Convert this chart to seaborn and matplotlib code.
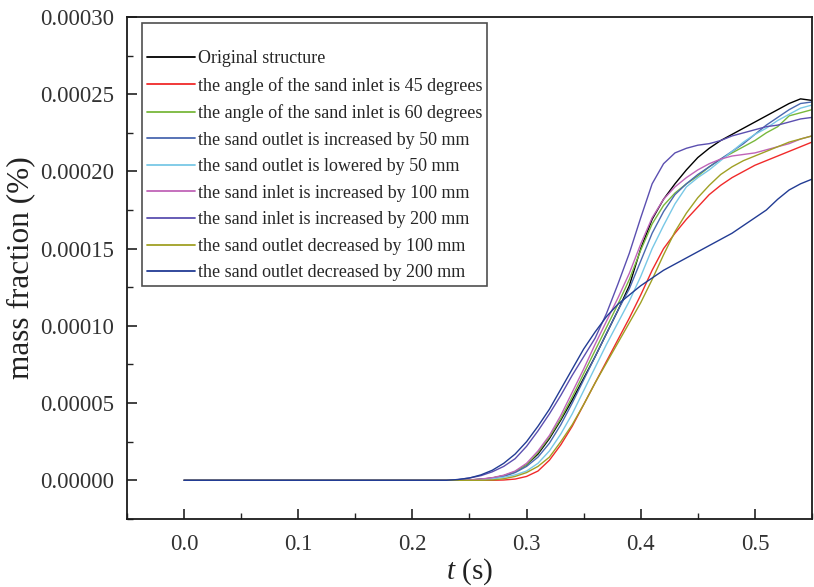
import numpy as np
import pandas as pd
import matplotlib
matplotlib.use("Agg")
import matplotlib.pyplot as plt
import seaborn as sns
from matplotlib.ticker import MultipleLocator, FormatStrFormatter

# Time samples (s)
t = [0.0, 0.23, 0.24, 0.25, 0.26, 0.27, 0.28, 0.29, 0.30, 0.31, 0.32, 0.33,
     0.34, 0.35, 0.36, 0.37, 0.38, 0.39, 0.40, 0.41, 0.42, 0.43, 0.44, 0.45,
     0.46, 0.47, 0.48, 0.49, 0.50, 0.51, 0.52, 0.53, 0.54, 0.55]

# Mass fraction for each structure, in units of 1e-5
original = [0, 0, 0, 0.02, 0.07, 0.15, 0.3, 0.55, 1.0, 1.7, 2.7, 3.9,
            5.2, 6.6, 8.0, 9.5, 11.0, 12.6, 15.0, 16.9, 18.2, 19.2, 20.1, 20.9,
            21.5, 22.0, 22.4, 22.8, 23.2, 23.6, 24.0, 24.4, 24.7, 24.6]
angle45 = [0, 0, 0, 0, 0, 0, 0.02, 0.08, 0.25, 0.6, 1.3, 2.3,
           3.5, 4.9, 6.3, 7.7, 9.1, 10.5, 12.0, 13.6, 15.0, 16.0, 16.9, 17.7,
           18.5, 19.1, 19.6, 20.0, 20.4, 20.7, 21.0, 21.3, 21.6, 21.9]
angle60 = [0, 0, 0, 0.02, 0.06, 0.14, 0.3, 0.55, 1.0, 1.8, 2.8, 4.0,
           5.4, 6.9, 8.4, 9.9, 11.4, 13.0, 14.9, 16.6, 17.8, 18.6, 19.2, 19.7,
           20.3, 20.8, 21.2, 21.6, 22.0, 22.5, 22.9, 23.6, 23.8, 24.0]
outlet_up50 = [0, 0, 0, 0.02, 0.06, 0.12, 0.25, 0.5, 0.9, 1.5, 2.4, 3.6,
               5.0, 6.5, 8.0, 9.5, 11.0, 12.4, 14.2, 16.0, 17.4, 18.5, 19.2, 19.8,
               20.3, 20.8, 21.3, 21.8, 22.4, 23.0, 23.5, 24.0, 24.4, 24.5]
outlet_down50 = [0, 0, 0, 0.01, 0.04, 0.1, 0.2, 0.35, 0.6, 1.1, 1.9, 3.0,
                 4.3, 5.8, 7.3, 8.8, 10.2, 11.6, 13.2, 15.0, 16.5, 17.9, 19.0, 19.6,
                 20.1, 20.7, 21.3, 21.9, 22.4, 22.8, 23.3, 23.7, 24.1, 24.3]
inlet_up100 = [0, 0, 0, 0.03, 0.08, 0.17, 0.33, 0.6, 1.1, 1.9, 2.9, 4.2,
               5.7, 7.2, 8.8, 10.3, 11.8, 13.4, 15.3, 17.0, 18.2, 19.0, 19.6, 20.1,
               20.5, 20.8, 21.0, 21.1, 21.2, 21.4, 21.6, 21.8, 22.1, 22.3]
inlet_up200 = [0, 0, 0.05, 0.15, 0.3, 0.55, 0.9, 1.4, 2.2, 3.2, 4.3, 5.5,
               6.8, 8.0, 9.2, 10.8, 12.7, 14.7, 17.0, 19.2, 20.5, 21.2, 21.5, 21.7,
               21.8, 22.0, 22.3, 22.5, 22.7, 22.9, 23.0, 23.2, 23.4, 23.5]
outlet_dec100 = [0, 0, 0, 0, 0, 0.02, 0.1, 0.25, 0.5, 0.9, 1.5, 2.5,
                 3.6, 4.9, 6.3, 7.6, 8.9, 10.2, 11.5, 13.0, 14.6, 16.1, 17.3, 18.3,
                 19.1, 19.8, 20.3, 20.7, 21.0, 21.3, 21.6, 21.9, 22.1, 22.3]
outlet_dec200 = [0, 0, 0.05, 0.15, 0.35, 0.65, 1.1, 1.7, 2.5, 3.5, 4.6, 5.9,
                 7.2, 8.5, 9.6, 10.6, 11.4, 12.0, 12.6, 13.1, 13.6, 14.0, 14.4, 14.8,
                 15.2, 15.6, 16.0, 16.5, 17.0, 17.5, 18.2, 18.8, 19.2, 19.5]

labels = [
    "Original structure",
    "the angle of the sand inlet is 45 degrees",
    "the angle of the sand inlet is 60 degrees",
    "the sand outlet is increased by 50 mm",
    "the sand outlet is lowered by 50 mm",
    "the sand inlet is increased by 100 mm",
    "the sand inlet is increased by 200 mm",
    "the sand outlet decreased by 100 mm",
    "the sand outlet decreased by 200 mm",
]
series = [original, angle45, angle60, outlet_up50, outlet_down50,
          inlet_up100, inlet_up200, outlet_dec100, outlet_dec200]
colors = ["#000000", "#f02a2a", "#78b83c", "#4a68b0", "#78c8e6",
          "#c064b8", "#5b4fb0", "#a0a024", "#223c94"]

frames = []
for name, vals in zip(labels, series):
    frames.append(pd.DataFrame({
        "t": t,
        "mass": np.asarray(vals) * 1e-5,
        "case": name,
    }))
df = pd.concat(frames, ignore_index=True)

sns.set_theme(style="white")
plt.rcParams["font.family"] = ["Liberation Serif", "DejaVu Serif"]
plt.rcParams["mathtext.fontset"] = "custom"
plt.rcParams["mathtext.it"] = "Liberation Serif:italic"
plt.rcParams["mathtext.rm"] = "Liberation Serif"

fig = plt.figure(figsize=(8.14, 5.87), dpi=100)
ax = fig.add_axes([0.156, 0.116, 0.8415, 0.855])

sns.lineplot(data=df, x="t", y="mass", hue="case", hue_order=labels,
             palette=dict(zip(labels, colors)), estimator=None, sort=False,
             linewidth=1.0, ax=ax)

ax.set_xlim(-0.05, 0.55)
ax.set_ylim(-0.000025, 0.0003)
ax.xaxis.set_major_locator(MultipleLocator(0.1))
ax.xaxis.set_minor_locator(MultipleLocator(0.05))
ax.yaxis.set_major_locator(MultipleLocator(0.00005))
ax.yaxis.set_minor_locator(MultipleLocator(0.000025))
ax.xaxis.set_major_formatter(FormatStrFormatter("%.1f"))
ax.yaxis.set_major_formatter(FormatStrFormatter("%.5f"))
ax.tick_params(axis="both", which="both", direction="in",
               bottom=True, left=True, top=False, right=False,
               colors="#222222", labelcolor="#333333", labelsize=16.5)
ax.tick_params(which="major", length=7, width=1.2)
ax.tick_params(which="minor", length=4, width=1.0)
ax.tick_params(axis="y", which="major", pad=9)
ax.tick_params(axis="x", which="major", pad=11)
for sp in ax.spines.values():
    sp.set_visible(True)
    sp.set_color("#1a1a1a")
    sp.set_linewidth(1.3)

ax.set_xlabel(r"$t$ (s)", fontsize=21, color="#222222", labelpad=1)
ax.set_ylabel("mass fraction (%)", fontsize=22.5, color="#222222", labelpad=4)

leg = ax.legend(loc="upper left", bbox_to_anchor=(0.022, 0.988), borderaxespad=0,
                title=" ", title_fontsize=10, fontsize=13, frameon=True,
                fancybox=False, edgecolor="#222222", handlelength=2.7,
                handletextpad=0.15, labelspacing=0.53, borderpad=0.25)
leg.get_frame().set_linewidth(1.2)
for line in leg.get_lines():
    line.set_linewidth(1.3)

fig.savefig("out.png", dpi=100, facecolor="white")
